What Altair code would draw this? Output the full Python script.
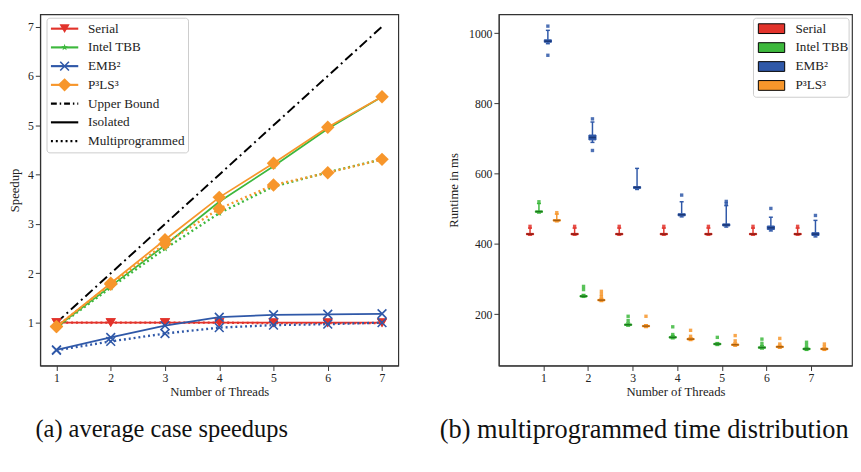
import altair as alt
import pandas as pd

FONT = "Liberation Serif, DejaVu Serif, serif"

# ---------------- data ----------------
threads = [1, 2, 3, 4, 5, 6, 7]
series = ["Serial", "Intel TBB", "EMB²", "P³LS³"]
colors = ["#E2332B", "#3DB83D", "#2F58A8", "#F7962B"]
dark_colors = ["#8E1A12", "#1C7A1C", "#1B3878", "#A9600F"]

# (a) speedups
upper_bound = [1, 2, 3, 4, 5, 6, 7]
serial_iso = [1.0, 1.0, 1.0, 1.0, 1.0, 1.0, 1.0]
serial_multi = [1.0, 1.0, 1.0, 1.0, 0.99, 0.99, 0.99]
tbb_iso = [0.91, 1.74, 2.57, 3.45, 4.17, 4.93, 5.58]
tbb_multi = [0.90, 1.71, 2.50, 3.22, 3.76, 4.05, 4.31]
emb_iso = [0.45, 0.70, 0.94, 1.11, 1.16, 1.17, 1.18]
emb_multi = [0.44, 0.62, 0.78, 0.90, 0.95, 0.97, 1.00]
p3_iso = [0.92, 1.80, 2.68, 3.54, 4.23, 4.96, 5.58]
p3_multi = [0.92, 1.78, 2.60, 3.31, 3.79, 4.04, 4.31]

# (b) runtime distributions (ms): q1, median, q3, lower whisker, upper whisker
serial_q1 = [426, 426, 426, 426, 426, 426, 426]
serial_med = [428, 428, 428, 428, 428, 428, 428]
serial_q3 = [430, 430, 430, 430, 430, 430, 430]
serial_wlo = [425, 425, 425, 425, 425, 425, 425]
serial_whi = [445, 445, 445, 445, 445, 445, 445]
serial_fliers = [(1, 450), (2, 450), (3, 450), (4, 450), (5, 450), (6, 450), (7, 450)]

tbb_q1 = [490, 249, 168, 132, 113, 103, 99]
tbb_med = [492, 251, 170, 134, 115, 105, 101]
tbb_q3 = [494, 253, 172, 136, 117, 107, 103]
tbb_wlo = [488, 248, 166, 130, 111, 101, 97]
tbb_whi = [515, 256, 175, 139, 119, 110, 105]
tbb_fliers = [(1, 520), (2, 270), (2, 279), (3, 182), (3, 194), (4, 142), (4, 164),
              (5, 134), (6, 117), (6, 129), (7, 111), (7, 120)]

emb_q1 = [974, 696, 558, 480, 451, 441, 424]
emb_med = [977, 703, 561, 483, 454, 446, 428]
emb_q3 = [981, 710, 563, 486, 457, 451, 432]
emb_wlo = [970, 689, 555, 477, 448, 437, 420]
emb_whi = [1008, 747, 615, 520, 509, 476, 467]
emb_fliers = [(1, 937), (1, 1020), (2, 666), (2, 756), (4, 539), (5, 515), (5, 521),
              (6, 501), (7, 481)]

p3_q1 = [465, 238, 164, 127, 111, 105, 99]
p3_med = [467, 240, 166, 129, 113, 107, 101]
p3_q3 = [469, 242, 168, 131, 115, 109, 103]
p3_wlo = [463, 236, 162, 125, 109, 103, 97]
p3_whi = [485, 245, 170, 133, 118, 111, 104]
p3_fliers = [(1, 489), (2, 249), (2, 256), (2, 265), (3, 194), (4, 137), (4, 154),
             (5, 124), (5, 139), (6, 115), (6, 131), (7, 107), (7, 115)]

group_offsets = [-0.3, -0.1, 0.1, 0.3]

legend_a_labels = ["Serial", "Intel TBB", "EMB²", "P³LS³", "Upper Bound", "Isolated", "Multiprogrammed"]
legend_b_labels = series

caption_a = "(a) average case speedups"
caption_b = "(b) multiprogrammed time distribution"

# ---------------- helpers ----------------
W1, H1 = 367, 360
W2, H2 = 362, 360

STAR = ("M0,-1L0.2245,-0.309L0.951,-0.309L0.363,0.118L0.588,0.809L0,0.382"
        "L-0.588,0.809L-0.363,0.118L-0.951,-0.309L-0.2245,-0.309Z")
XMARK = "M-1,-1L1,1M-1,1L1,-1"
markers = [
    dict(shape="triangle-down", filled=True, size=110, strokeWidth=0),
    dict(shape=STAR, filled=True, size=55, strokeWidth=0),
    dict(shape=XMARK, filled=False, size=80, strokeWidth=1.6),
    dict(shape="diamond", filled=True, size=190, strokeWidth=0),
]


def one():
    return alt.Data(values=[{"k": 1}])


def X1():
    return alt.X("thread:Q", scale=alt.Scale(domain=[0.7, 7.3], nice=False, zero=False),
                 axis=alt.Axis(values=threads, format="d", title="Number of Threads",
                               titlePadding=3))


def Y1():
    return alt.Y("speedup:Q", scale=alt.Scale(domain=[0.13, 7.25], nice=False, zero=False),
                 axis=alt.Axis(values=[1, 2, 3, 4, 5, 6, 7], format="d", title="Speedup",
                               titlePadding=6))


def sdf(vals):
    return pd.DataFrame({"thread": threads, "speedup": vals})


# ---------------- chart (a) ----------------
layers_a = [
    alt.Chart(sdf(upper_bound)).mark_line(color="black", strokeWidth=2,
                                          strokeDash=[10, 4, 2, 4]).encode(X1(), Y1())
]
iso_all = [serial_iso, tbb_iso, emb_iso, p3_iso]
multi_all = [serial_multi, tbb_multi, emb_multi, p3_multi]
for i in range(4):
    c = colors[i]
    m = markers[i]
    layers_a.append(alt.Chart(sdf(multi_all[i])).mark_line(
        color=c, strokeWidth=2.4, strokeDash=[2, 3]).encode(X1(), Y1()))
    layers_a.append(alt.Chart(sdf(iso_all[i])).mark_line(
        color=c, strokeWidth=1.8).encode(X1(), Y1()))
    for vals in (multi_all[i], iso_all[i]):
        layers_a.append(alt.Chart(sdf(vals)).mark_point(
            shape=m["shape"], filled=m["filled"], size=m["size"], color=c,
            strokeWidth=m["strokeWidth"], opacity=1).encode(X1(), Y1()))

# legend (a)
layers_a.append(alt.Chart(one()).mark_rect(
    fill="white", fillOpacity=0.85, stroke="#cccccc", strokeWidth=1, cornerRadius=3).encode(
    x=alt.value(7), x2=alt.value(152), y=alt.value(4), y2=alt.value(142)))
leg_dash = [None, None, None, None, [6, 3, 1.5, 3], None, [2, 3]]
leg_col = colors + ["black", "black", "black"]
for i, lab in enumerate(legend_a_labels):
    yy = 14.7 + 19.2 * i
    rule_kw = dict(color=leg_col[i], strokeWidth=2.2 if i < 6 else 2.4)
    if leg_dash[i]:
        rule_kw["strokeDash"] = leg_dash[i]
    layers_a.append(alt.Chart(one()).mark_rule(**rule_kw).encode(
        x=alt.value(11), x2=alt.value(39), y=alt.value(yy)))
    if i < 4:
        m = markers[i]
        layers_a.append(alt.Chart(one()).mark_point(
            shape=m["shape"], filled=m["filled"], size=m["size"], color=leg_col[i],
            strokeWidth=m["strokeWidth"], opacity=1).encode(x=alt.value(25), y=alt.value(yy)))
    layers_a.append(alt.Chart(one()).mark_text(
        text=lab, align="left", baseline="middle", font=FONT, fontSize=13.5, color="#222").encode(
        x=alt.value(49), y=alt.value(yy)))

chart_a = alt.layer(*layers_a).properties(
    width=W1, height=H1,
    title=alt.TitleParams(caption_a, orient="bottom", anchor="middle", frame="group",
                          dx=-59, offset=19, fontSize=25, font=FONT,
                          fontWeight="normal", color="#111"))

# ---------------- chart (b) ----------------
rows = []
fl_rows = []
stats = [
    (serial_q1, serial_med, serial_q3, serial_wlo, serial_whi, serial_fliers),
    (tbb_q1, tbb_med, tbb_q3, tbb_wlo, tbb_whi, tbb_fliers),
    (emb_q1, emb_med, emb_q3, emb_wlo, emb_whi, emb_fliers),
    (p3_q1, p3_med, p3_q3, p3_wlo, p3_whi, p3_fliers),
]
HW, CW = 0.08, 0.045
for si, (q1, med, q3, wlo, whi, fl) in enumerate(stats):
    for ti, t in enumerate(threads):
        pos = t + group_offsets[si]
        rows.append(dict(pos=pos, lo=pos - HW, hi=pos + HW, clo=pos - CW, chi=pos + CW,
                         q1=q1[ti], med=med[ti], q3=q3[ti], wlo=wlo[ti], whi=whi[ti],
                         color=colors[si], dark=dark_colors[si]))
    for t, v in fl:
        fl_rows.append(dict(pos=t + group_offsets[si], v=v, color=colors[si]))
box_df = pd.DataFrame(rows)
fl_df = pd.DataFrame(fl_rows)

xs2 = alt.Scale(domain=[0, 7.92], nice=False, zero=False)
ys2 = alt.Scale(domain=[53.6, 1053.6], nice=False, zero=False)
ax2 = alt.Axis(values=threads, format="d", title="Number of Threads", titlePadding=3)
ay2 = alt.Axis(values=[200, 400, 600, 800, 1000], format="d", title="Runtime in ms",
               titlePadding=8)


def X2(f):
    return alt.X(f + ":Q", scale=xs2, axis=ax2)


def Y2(f):
    return alt.Y(f + ":Q", scale=ys2, axis=ay2)


base_b = alt.Chart(box_df)
col = alt.Color("color:N", scale=None)
dcol = alt.Color("dark:N", scale=None)
layers_b = [
    base_b.mark_rule(strokeWidth=1.5).encode(X2("pos"), Y2("q3"), y2="whi:Q", color=col),
    base_b.mark_rule(strokeWidth=1.5).encode(X2("pos"), Y2("q1"), y2="wlo:Q", color=col),
    base_b.mark_rule(strokeWidth=1.5).encode(X2("clo"), x2="chi:Q", y=Y2("whi"), color=col),
    base_b.mark_rule(strokeWidth=1.5).encode(X2("clo"), x2="chi:Q", y=Y2("wlo"), color=col),
    base_b.mark_rect(strokeWidth=1).encode(X2("lo"), x2="hi:Q", y=Y2("q1"), y2="q3:Q",
                                           color=col, stroke=alt.Stroke("color:N", scale=None)),
    base_b.mark_rule(strokeWidth=1.6).encode(X2("lo"), x2="hi:Q", y=Y2("med"), color=dcol),
    alt.Chart(fl_df).mark_square(size=12, opacity=0.85).encode(X2("pos"), Y2("v"), color=col),
]

# legend (b)
layers_b.append(alt.Chart(one()).mark_rect(
    fill="white", fillOpacity=0.85, stroke="#cccccc", strokeWidth=1, cornerRadius=3).encode(
    x=alt.value(261), x2=alt.value(359), y=alt.value(4), y2=alt.value(85)))
for i, lab in enumerate(legend_b_labels):
    yy = 14.7 + 19.4 * i
    layers_b.append(alt.Chart(one()).mark_rect(
        color=colors[i], stroke="black", strokeWidth=1).encode(
        x=alt.value(266), x2=alt.value(293), y=alt.value(yy - 5), y2=alt.value(yy + 5)))
    layers_b.append(alt.Chart(one()).mark_text(
        text=lab, align="left", baseline="middle", font=FONT, fontSize=13.5, color="#222").encode(
        x=alt.value(304), y=alt.value(yy)))

chart_b = alt.layer(*layers_b).properties(
    width=W2, height=H2,
    title=alt.TitleParams(caption_b, orient="bottom", anchor="middle", frame="group",
                          dx=-32, offset=19, fontSize=27, font=FONT,
                          fontWeight="normal", color="#111"))

chart = alt.hconcat(chart_a, chart_b, spacing=40).properties(
    padding={"left": 0, "right": 0, "top": 0, "bottom": 0}
).configure_view(stroke="#333333", strokeWidth=1.2).configure_axis(
    labelFont=FONT, titleFont=FONT, labelFontSize=12, titleFontSize=13,
    titleFontWeight="normal", labelColor="#222", titleColor="#222",
    domainColor="#333", tickColor="#333", tickSize=5, labelPadding=2, grid=False
).configure_text(font=FONT)

chart.save("out.html", embed_options={"renderer": "svg", "actions": False})
